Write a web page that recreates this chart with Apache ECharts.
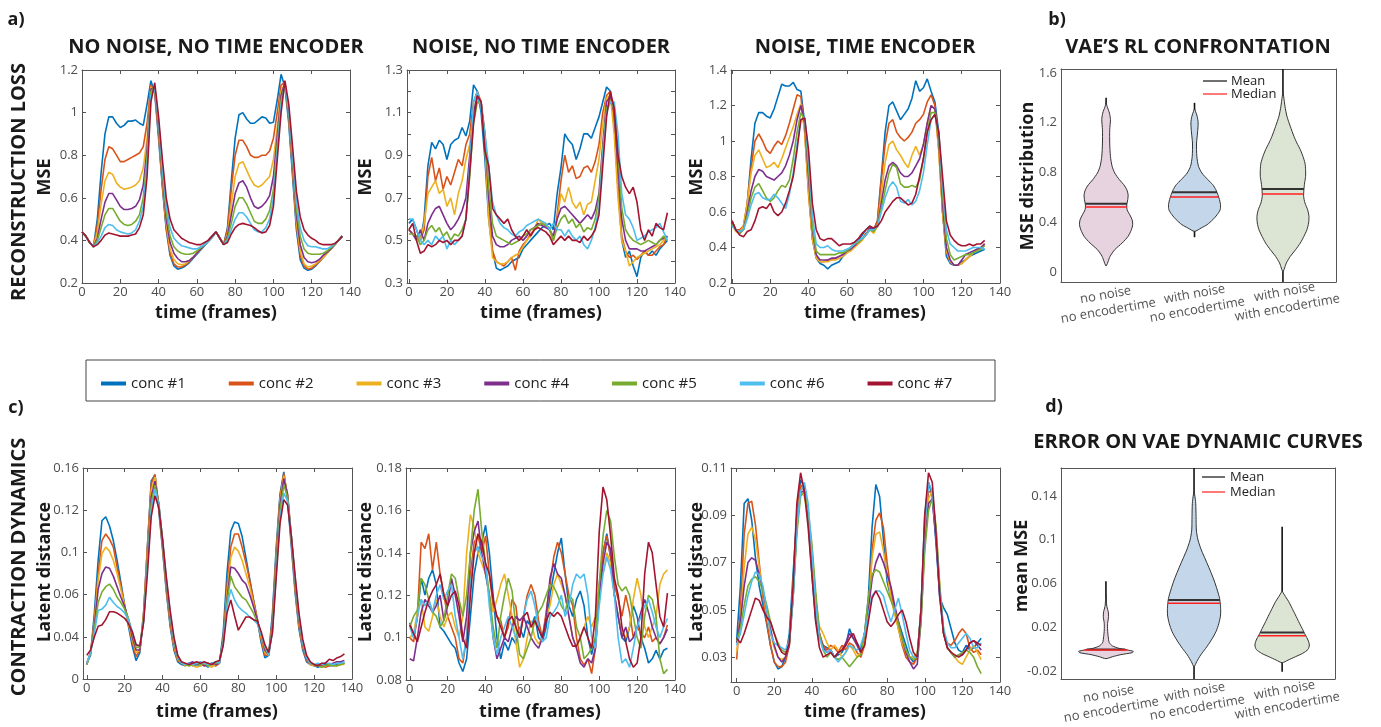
<!DOCTYPE html>
<html><head><meta charset="utf-8">
<script src="https://cdn.jsdelivr.net/npm/echarts@6/dist/echarts.min.js"></script>
<style>html,body{margin:0;padding:0;background:#fff}#c{width:1381px;height:727px}</style>
</head><body><div id="c"></div>
<script>
// ---------------- DATA ----------------
const SERIES_NAMES = ['conc #1','conc #2','conc #3','conc #4','conc #5','conc #6','conc #7'];
const COLORS = ['#0072BD','#D95319','#EDB120','#7E2F8E','#77AC30','#4DBEEE','#A2142F'];

const FRAMES_136 = [0,2,4,6,8,10,12,14,16,18,20,22,24,26,28,30,32,34,36,38,40,42,44,46,48,50,52,54,56,58,60,62,64,66,68,70,72,74,76,78,80,82,84,86,88,90,92,94,96,98,100,102,104,106,108,110,112,114,116,118,120,122,124,126,128,130,132,134,136];
const FRAMES_132 = [0,2,4,6,8,10,12,14,16,18,20,22,24,26,28,30,32,34,36,38,40,42,44,46,48,50,52,54,56,58,60,62,64,66,68,70,72,74,76,78,80,82,84,86,88,90,92,94,96,98,100,102,104,106,108,110,112,114,116,118,120,122,124,126,128,130,132];
const FRAMES_130 = [0,2,4,6,8,10,12,14,16,18,20,22,24,26,28,30,32,34,36,38,40,42,44,46,48,50,52,54,56,58,60,62,64,66,68,70,72,74,76,78,80,82,84,86,88,90,92,94,96,98,100,102,104,106,108,110,112,114,116,118,120,122,124,126,128,130];

// a) NO NOISE, NO TIME ENCODER  (MSE)
const A1_C1 = [0.44,0.42,0.39,0.37,0.50,0.72,0.90,0.98,0.98,0.95, 0.93,0.94,0.96,0.96,0.965,0.95,0.94,1.04,1.15,1.09, 0.88,0.65,0.45,0.33,0.28,0.265,0.27,0.28,0.295,0.315, 0.335,0.355,0.375,0.395,0.415,0.44,0.41,0.38,0.46,0.68, 0.88,0.99,1.0,0.97,0.95,0.95,0.965,0.98,0.975,0.95, 0.955,1.06,1.18,1.12,0.95,0.70,0.45,0.31,0.27,0.26, 0.265,0.28,0.30,0.32,0.34,0.36,0.38,0.40,0.42];
const A1_C2 = [0.44,0.42,0.39,0.37,0.47,0.64,0.78,0.84,0.83,0.80, 0.77,0.77,0.78,0.79,0.80,0.81,0.84,0.95,1.13,1.10, 0.90,0.66,0.46,0.34,0.29,0.275,0.275,0.285,0.30,0.32, 0.34,0.36,0.38,0.40,0.42,0.44,0.41,0.38,0.45,0.64, 0.80,0.87,0.87,0.84,0.80,0.79,0.79,0.80,0.80,0.82, 0.88,1.0,1.13,1.14,0.97,0.73,0.47,0.33,0.28,0.265, 0.27,0.285,0.30,0.32,0.34,0.36,0.38,0.40,0.42];
const A1_C3 = [0.44,0.42,0.39,0.37,0.44,0.57,0.68,0.72,0.71,0.67, 0.65,0.64,0.645,0.65,0.66,0.68,0.74,0.88,1.12,1.11, 0.92,0.68,0.48,0.36,0.31,0.29,0.285,0.29,0.305,0.32, 0.34,0.36,0.38,0.40,0.42,0.44,0.41,0.38,0.43,0.57, 0.70,0.76,0.77,0.73,0.69,0.66,0.65,0.66,0.68,0.70, 0.78,0.93,1.10,1.14,0.98,0.75,0.49,0.35,0.29,0.275, 0.28,0.29,0.305,0.32,0.34,0.36,0.38,0.40,0.42];
const A1_C4 = [0.44,0.42,0.39,0.37,0.41,0.50,0.58,0.62,0.62,0.59, 0.56,0.545,0.545,0.55,0.56,0.59,0.66,0.83,1.11,1.12, 0.93,0.70,0.50,0.39,0.34,0.315,0.30,0.30,0.305,0.32, 0.34,0.36,0.38,0.40,0.42,0.44,0.41,0.38,0.42,0.52, 0.62,0.67,0.68,0.65,0.60,0.56,0.55,0.56,0.58,0.61, 0.70,0.89,1.08,1.14,0.99,0.77,0.52,0.38,0.32,0.30, 0.295,0.30,0.31,0.33,0.345,0.36,0.38,0.40,0.42];
const A1_C5 = [0.44,0.42,0.39,0.37,0.40,0.46,0.52,0.55,0.55,0.52, 0.49,0.475,0.47,0.475,0.49,0.52,0.60,0.79,1.10,1.12, 0.95,0.72,0.53,0.42,0.37,0.35,0.34,0.335,0.335,0.34, 0.35,0.365,0.38,0.395,0.415,0.44,0.41,0.38,0.41,0.48, 0.56,0.60,0.60,0.57,0.53,0.49,0.48,0.48,0.50,0.54, 0.64,0.85,1.06,1.13,1.0,0.79,0.55,0.42,0.36,0.34, 0.335,0.335,0.335,0.34,0.35,0.365,0.38,0.40,0.42];
const A1_C6 = [0.44,0.42,0.39,0.37,0.39,0.42,0.46,0.475,0.47,0.45, 0.44,0.435,0.43,0.435,0.45,0.49,0.56,0.75,1.08,1.12, 0.96,0.74,0.56,0.46,0.41,0.39,0.375,0.37,0.365,0.36, 0.36,0.37,0.38,0.395,0.415,0.44,0.41,0.38,0.40,0.45, 0.50,0.53,0.53,0.51,0.48,0.45,0.44,0.44,0.46,0.50, 0.60,0.82,1.04,1.13,1.01,0.80,0.58,0.46,0.40,0.375, 0.37,0.37,0.365,0.36,0.36,0.37,0.385,0.40,0.42];
const A1_C7 = [0.44,0.42,0.39,0.37,0.38,0.40,0.425,0.435,0.43,0.425, 0.42,0.42,0.42,0.425,0.43,0.46,0.52,0.70,1.05,1.14, 0.98,0.78,0.60,0.50,0.45,0.43,0.41,0.40,0.39,0.385, 0.38,0.38,0.39,0.40,0.42,0.44,0.41,0.38,0.39,0.43, 0.46,0.475,0.48,0.475,0.47,0.46,0.445,0.435,0.44,0.47, 0.56,0.78,1.0,1.15,1.04,0.84,0.63,0.51,0.45,0.425, 0.41,0.40,0.385,0.38,0.38,0.38,0.385,0.40,0.42];

// NOISE, NO TIME ENCODER (MSE)
const A2_C1 = [0.58,0.60,0.55,0.50,0.60,0.85,0.96,0.93,0.97,0.95, 0.88,0.95,0.97,0.98,1.03,0.99,1.06,1.23,1.20,1.10, 0.88,0.60,0.45,0.37,0.36,0.37,0.38,0.40,0.41,0.42, 0.46,0.48,0.50,0.52,0.54,0.56,0.57,0.58,0.55,0.72, 0.84,1.00,0.97,0.95,0.88,0.93,1.00,1.00,0.98,1.03, 1.08,1.15,1.22,1.20,1.05,0.75,0.50,0.42,0.45,0.38, 0.33,0.42,0.45,0.43,0.45,0.43,0.46,0.48,0.50];
const A2_C2 = [0.55,0.53,0.52,0.50,0.55,0.80,0.89,0.78,0.84,0.74, 0.80,0.76,0.82,0.88,0.85,0.95,1.00,1.15,1.20,1.15, 0.95,0.65,0.45,0.40,0.39,0.38,0.40,0.42,0.36,0.45, 0.48,0.50,0.53,0.55,0.57,0.58,0.57,0.55,0.50,0.62, 0.78,0.90,0.82,0.85,0.79,0.80,0.84,0.85,0.82,0.87, 0.95,1.10,1.18,1.20,1.05,0.75,0.52,0.45,0.42,0.43, 0.41,0.43,0.45,0.43,0.43,0.45,0.47,0.48,0.52];
const A2_C3 = [0.55,0.53,0.52,0.50,0.58,0.72,0.75,0.78,0.72,0.74, 0.66,0.70,0.62,0.72,0.78,0.88,0.95,1.10,1.18,1.15, 0.95,0.60,0.42,0.40,0.39,0.39,0.40,0.42,0.43,0.44, 0.47,0.50,0.52,0.55,0.60,0.58,0.58,0.55,0.50,0.60, 0.72,0.68,0.75,0.68,0.65,0.68,0.62,0.67,0.68,0.78, 0.88,1.05,1.17,1.18,1.00,0.70,0.50,0.45,0.38,0.40, 0.42,0.43,0.44,0.45,0.46,0.47,0.48,0.50,0.52];
const A2_C4 = [0.55,0.53,0.50,0.55,0.50,0.58,0.62,0.65,0.66,0.62, 0.58,0.55,0.57,0.60,0.64,0.70,0.90,1.10,1.18,1.15, 1.00,0.70,0.52,0.48,0.47,0.47,0.48,0.50,0.51,0.52, 0.50,0.52,0.55,0.56,0.58,0.57,0.56,0.55,0.52,0.60, 0.65,0.66,0.64,0.62,0.60,0.58,0.60,0.62,0.60,0.64, 0.72,0.95,1.15,1.18,1.10,0.85,0.60,0.50,0.46,0.46, 0.46,0.45,0.45,0.46,0.47,0.48,0.50,0.51,0.52];
const A2_C5 = [0.53,0.53,0.52,0.48,0.50,0.55,0.57,0.54,0.56,0.52, 0.54,0.50,0.53,0.52,0.55,0.60,0.80,1.05,1.15,1.14, 1.00,0.75,0.58,0.52,0.51,0.50,0.49,0.48,0.49,0.50, 0.52,0.53,0.55,0.56,0.57,0.58,0.57,0.56,0.50,0.56, 0.60,0.62,0.58,0.60,0.56,0.58,0.54,0.56,0.55,0.60, 0.70,0.92,1.12,1.15,1.12,0.92,0.65,0.55,0.52,0.50, 0.49,0.48,0.49,0.50,0.49,0.48,0.50,0.52,0.50];
const A2_C6 = [0.60,0.60,0.55,0.50,0.48,0.50,0.48,0.52,0.50,0.52, 0.46,0.50,0.48,0.50,0.52,0.60,0.85,1.15,1.20,1.12, 1.00,0.85,0.68,0.62,0.58,0.56,0.55,0.53,0.52,0.54, 0.55,0.57,0.58,0.59,0.60,0.59,0.58,0.55,0.58,0.55, 0.55,0.52,0.55,0.52,0.50,0.52,0.48,0.46,0.50,0.56, 0.65,0.90,1.10,1.15,1.15,1.00,0.72,0.62,0.60,0.56, 0.50,0.51,0.52,0.54,0.55,0.56,0.58,0.54,0.50];
const A2_C7 = [0.55,0.58,0.50,0.44,0.45,0.48,0.47,0.48,0.50,0.49, 0.50,0.48,0.50,0.50,0.52,0.60,0.82,1.05,1.18,1.15, 0.92,0.85,0.65,0.62,0.60,0.58,0.60,0.55,0.52,0.50, 0.52,0.55,0.52,0.55,0.56,0.55,0.54,0.52,0.48,0.50, 0.52,0.50,0.52,0.50,0.50,0.49,0.52,0.50,0.52,0.55, 0.62,0.85,1.08,1.20,1.12,0.90,0.80,0.75,0.72,0.75, 0.68,0.55,0.50,0.55,0.52,0.58,0.56,0.55,0.63];

// NOISE, TIME ENCODER (MSE)
const A3_C1 = [0.55,0.50,0.49,0.50,0.65,0.90,1.10,1.16,1.16,1.14, 1.13,1.18,1.25,1.32,1.31,1.31,1.33,1.29,1.28,1.10, 0.75,0.45,0.34,0.31,0.30,0.28,0.30,0.31,0.32,0.35, 0.37,0.40,0.42,0.44,0.47,0.50,0.52,0.50,0.55,0.80, 1.05,1.20,1.22,1.17,1.12,1.15,1.18,1.24,1.34,1.28, 1.30,1.35,1.28,1.22,1.05,0.60,0.35,0.31,0.30,0.30, 0.32,0.33,0.35,0.36,0.37,0.38,0.39];
const A3_C2 = [0.55,0.50,0.50,0.52,0.65,0.85,1.00,1.04,1.00,0.95, 0.93,0.97,1.00,0.98,1.03,1.10,1.18,1.26,1.25,1.05, 0.70,0.45,0.35,0.32,0.32,0.33,0.33,0.34,0.35,0.36, 0.38,0.40,0.41,0.43,0.45,0.48,0.50,0.50,0.55,0.78, 0.98,1.10,1.12,1.05,1.02,1.00,1.02,1.05,1.10,1.12, 1.15,1.22,1.26,1.20,0.95,0.60,0.38,0.32,0.30,0.30, 0.31,0.33,0.35,0.37,0.39,0.40,0.42];
const A3_C3 = [0.53,0.49,0.48,0.52,0.65,0.82,0.92,0.95,0.90,0.85, 0.86,0.88,0.85,0.90,0.96,1.02,1.08,1.15,1.21,1.05, 0.72,0.45,0.34,0.32,0.32,0.32,0.33,0.33,0.34,0.35, 0.37,0.38,0.40,0.42,0.44,0.47,0.50,0.48,0.52,0.70, 0.88,0.98,1.00,0.95,0.92,0.88,0.85,0.92,0.97,0.92, 0.98,1.10,1.20,1.18,0.95,0.60,0.38,0.32,0.30,0.30, 0.31,0.33,0.35,0.37,0.39,0.40,0.41];
const A3_C4 = [0.53,0.50,0.48,0.50,0.60,0.72,0.80,0.84,0.83,0.80, 0.79,0.78,0.80,0.82,0.86,0.92,1.00,1.12,1.20,1.10, 0.80,0.50,0.36,0.33,0.33,0.33,0.34,0.34,0.35,0.36, 0.38,0.39,0.41,0.43,0.45,0.47,0.51,0.50,0.52,0.65, 0.78,0.86,0.88,0.86,0.82,0.80,0.80,0.82,0.86,0.90, 0.98,1.10,1.20,1.18,1.00,0.65,0.40,0.33,0.30,0.30, 0.33,0.36,0.37,0.38,0.39,0.40,0.42];
const A3_C5 = [0.53,0.50,0.48,0.50,0.58,0.68,0.74,0.76,0.72,0.68, 0.66,0.68,0.72,0.75,0.74,0.78,0.90,1.05,1.16,1.12, 0.85,0.52,0.38,0.36,0.36,0.36,0.36,0.36,0.37,0.37, 0.38,0.40,0.42,0.43,0.45,0.47,0.50,0.49,0.52,0.62, 0.72,0.82,0.87,0.85,0.76,0.74,0.74,0.75,0.74,0.78, 0.90,1.05,1.16,1.16,1.02,0.70,0.45,0.36,0.33,0.34, 0.35,0.36,0.36,0.37,0.38,0.39,0.41];
const A3_C6 = [0.52,0.50,0.49,0.50,0.56,0.64,0.70,0.71,0.68,0.67, 0.67,0.70,0.68,0.65,0.62,0.70,0.82,0.98,1.12,1.13, 0.90,0.58,0.42,0.40,0.40,0.41,0.39,0.38,0.38,0.38, 0.39,0.40,0.42,0.44,0.45,0.47,0.50,0.50,0.52,0.60, 0.68,0.74,0.77,0.74,0.66,0.65,0.67,0.64,0.66,0.72, 0.82,0.98,1.12,1.15,1.05,0.75,0.50,0.42,0.40,0.38, 0.38,0.38,0.39,0.40,0.40,0.40,0.39];
const A3_C7 = [0.55,0.50,0.47,0.46,0.49,0.50,0.55,0.62,0.63,0.62, 0.65,0.60,0.58,0.60,0.65,0.72,0.80,0.95,1.12,1.13, 0.95,0.65,0.50,0.45,0.44,0.45,0.45,0.43,0.41,0.42, 0.42,0.42,0.43,0.45,0.48,0.50,0.52,0.51,0.52,0.55, 0.60,0.63,0.66,0.68,0.68,0.66,0.64,0.65,0.70,0.80, 0.90,1.05,1.12,1.15,1.05,0.80,0.55,0.47,0.44,0.42, 0.41,0.41,0.42,0.41,0.42,0.42,0.44];

// c) CONTRACTION DYNAMICS (Latent distance)
const C1_C1 = [0.012,0.018,0.05,0.09,0.12,0.123,0.116,0.105,0.09,0.073, 0.056,0.04,0.025,0.014,0.02,0.05,0.1,0.15,0.155,0.128, 0.098,0.066,0.04,0.022,0.013,0.011,0.01,0.012,0.01,0.011, 0.01,0.011,0.009,0.012,0.01,0.012,0.035,0.08,0.112,0.119, 0.118,0.108,0.092,0.076,0.06,0.045,0.028,0.016,0.018,0.05, 0.1,0.14,0.157,0.135,0.1,0.065,0.038,0.022,0.013,0.011, 0.01,0.009,0.01,0.011,0.01,0.01,0.011,0.012,0.012];
const C1_C2 = [0.012,0.02,0.045,0.08,0.105,0.11,0.106,0.1,0.085,0.07, 0.055,0.042,0.028,0.017,0.022,0.05,0.1,0.148,0.155,0.13, 0.1,0.068,0.042,0.024,0.014,0.012,0.011,0.01,0.011,0.012, 0.011,0.01,0.012,0.011,0.01,0.012,0.03,0.07,0.1,0.11, 0.11,0.1,0.088,0.075,0.06,0.046,0.03,0.018,0.018,0.045, 0.095,0.138,0.156,0.138,0.104,0.068,0.04,0.024,0.014,0.011, 0.01,0.011,0.01,0.009,0.01,0.011,0.01,0.011,0.012];
const C1_C3 = [0.011,0.02,0.042,0.075,0.095,0.1,0.097,0.09,0.08,0.068, 0.055,0.042,0.03,0.02,0.022,0.048,0.095,0.143,0.153,0.132, 0.102,0.07,0.044,0.025,0.015,0.012,0.01,0.011,0.01,0.009, 0.01,0.011,0.01,0.009,0.011,0.012,0.028,0.065,0.092,0.1, 0.097,0.09,0.08,0.07,0.057,0.045,0.032,0.02,0.018,0.042, 0.092,0.135,0.154,0.14,0.106,0.07,0.042,0.025,0.015,0.011, 0.01,0.01,0.009,0.01,0.011,0.01,0.01,0.011,0.011];
const C1_C4 = [0.011,0.02,0.04,0.068,0.08,0.085,0.084,0.078,0.07,0.062, 0.055,0.045,0.032,0.022,0.022,0.045,0.09,0.138,0.15,0.133, 0.104,0.072,0.046,0.027,0.016,0.012,0.011,0.012,0.013,0.011, 0.012,0.01,0.011,0.012,0.011,0.012,0.028,0.06,0.085,0.084, 0.08,0.075,0.072,0.064,0.055,0.045,0.034,0.022,0.018,0.04, 0.088,0.132,0.152,0.14,0.108,0.072,0.044,0.026,0.015,0.012, 0.011,0.01,0.011,0.012,0.011,0.012,0.013,0.013,0.014];
const C1_C5 = [0.011,0.02,0.038,0.058,0.066,0.07,0.072,0.068,0.062,0.058, 0.053,0.046,0.035,0.024,0.024,0.045,0.088,0.133,0.147,0.133, 0.105,0.074,0.048,0.028,0.016,0.012,0.011,0.01,0.011,0.012, 0.011,0.012,0.01,0.011,0.012,0.013,0.028,0.058,0.078,0.07, 0.066,0.062,0.06,0.055,0.05,0.043,0.034,0.024,0.018,0.038, 0.085,0.128,0.147,0.138,0.108,0.074,0.046,0.027,0.016,0.012, 0.011,0.01,0.009,0.01,0.011,0.01,0.01,0.011,0.012];
const C1_C6 = [0.012,0.02,0.035,0.052,0.053,0.056,0.062,0.058,0.055,0.053, 0.05,0.045,0.036,0.026,0.025,0.044,0.085,0.128,0.144,0.132, 0.106,0.076,0.05,0.03,0.017,0.012,0.011,0.012,0.011,0.012, 0.013,0.012,0.011,0.012,0.013,0.012,0.027,0.055,0.068,0.06, 0.055,0.052,0.05,0.047,0.045,0.042,0.034,0.025,0.018,0.036, 0.08,0.122,0.141,0.135,0.108,0.076,0.048,0.028,0.016,0.012, 0.011,0.012,0.011,0.012,0.012,0.011,0.012,0.012,0.013];
const C1_C7 = [0.018,0.022,0.032,0.04,0.041,0.045,0.051,0.051,0.05,0.048, 0.046,0.042,0.036,0.026,0.025,0.043,0.08,0.123,0.139,0.13, 0.106,0.077,0.052,0.032,0.018,0.013,0.012,0.011,0.012,0.013, 0.012,0.013,0.012,0.011,0.013,0.014,0.025,0.05,0.06,0.048, 0.037,0.042,0.047,0.047,0.045,0.044,0.036,0.026,0.02,0.035, 0.077,0.118,0.136,0.132,0.108,0.078,0.05,0.03,0.018,0.013, 0.011,0.01,0.012,0.012,0.015,0.014,0.016,0.017,0.019];

const C2_C1 = [0.107,0.1,0.11,0.128,0.12,0.128,0.132,0.125,0.105,0.103, 0.1,0.097,0.095,0.088,0.084,0.09,0.11,0.13,0.14,0.145, 0.153,0.14,0.12,0.1,0.09,0.098,0.094,0.1,0.097,0.105, 0.1,0.108,0.105,0.11,0.1,0.098,0.105,0.12,0.13,0.14, 0.147,0.13,0.115,0.11,0.118,0.122,0.115,0.1,0.092,0.1, 0.125,0.14,0.149,0.138,0.12,0.11,0.1,0.098,0.105,0.115, 0.11,0.1,0.095,0.088,0.09,0.094,0.09,0.094,0.095];
const C2_C2 = [0.1,0.098,0.11,0.145,0.142,0.149,0.132,0.145,0.13,0.12, 0.11,0.105,0.1,0.09,0.088,0.1,0.13,0.145,0.148,0.14, 0.148,0.13,0.115,0.11,0.108,0.1,0.105,0.118,0.115,0.1, 0.11,0.12,0.125,0.12,0.108,0.1,0.112,0.125,0.138,0.145, 0.14,0.13,0.12,0.115,0.1,0.09,0.087,0.09,0.083,0.095, 0.12,0.14,0.148,0.138,0.125,0.118,0.11,0.12,0.112,0.1, 0.105,0.102,0.1,0.105,0.098,0.1,0.097,0.1,0.106];
const C2_C3 = [0.1,0.102,0.112,0.118,0.105,0.103,0.11,0.118,0.11,0.105, 0.11,0.112,0.105,0.1,0.11,0.14,0.158,0.152,0.14,0.135, 0.13,0.12,0.112,0.118,0.125,0.13,0.12,0.11,0.098,0.086, 0.09,0.1,0.108,0.1,0.097,0.1,0.11,0.115,0.125,0.13, 0.125,0.12,0.11,0.1,0.095,0.1,0.105,0.11,0.105,0.11, 0.125,0.13,0.14,0.135,0.12,0.11,0.102,0.1,0.105,0.118, 0.128,0.12,0.105,0.1,0.105,0.11,0.125,0.13,0.132];
const C2_C4 = [0.09,0.089,0.1,0.112,0.118,0.115,0.112,0.115,0.12,0.108, 0.115,0.128,0.12,0.11,0.098,0.11,0.14,0.15,0.155,0.14, 0.13,0.12,0.1,0.09,0.095,0.1,0.098,0.105,0.11,0.108, 0.11,0.105,0.1,0.097,0.095,0.1,0.11,0.128,0.135,0.13, 0.128,0.12,0.11,0.1,0.095,0.088,0.086,0.09,0.088,0.095, 0.12,0.135,0.145,0.142,0.12,0.11,0.1,0.105,0.098,0.1, 0.105,0.112,0.118,0.112,0.105,0.1,0.097,0.1,0.104];
const C2_C5 = [0.105,0.11,0.113,0.128,0.125,0.118,0.112,0.11,0.105,0.108, 0.12,0.13,0.128,0.118,0.11,0.12,0.14,0.16,0.17,0.15, 0.135,0.12,0.105,0.095,0.11,0.12,0.128,0.122,0.105,0.092, 0.09,0.095,0.1,0.108,0.112,0.115,0.12,0.125,0.124,0.12, 0.115,0.112,0.12,0.118,0.105,0.1,0.09,0.092,0.095,0.1, 0.125,0.148,0.16,0.155,0.138,0.125,0.122,0.124,0.12,0.11, 0.1,0.095,0.11,0.12,0.118,0.11,0.09,0.083,0.085];
const C2_C6 = [0.105,0.1,0.11,0.118,0.115,0.118,0.112,0.12,0.125,0.118, 0.122,0.125,0.11,0.1,0.09,0.1,0.125,0.14,0.143,0.138, 0.135,0.115,0.1,0.092,0.1,0.105,0.11,0.105,0.1,0.103, 0.11,0.118,0.122,0.115,0.105,0.098,0.1,0.11,0.112,0.115, 0.12,0.11,0.115,0.125,0.13,0.128,0.13,0.12,0.1,0.095, 0.115,0.13,0.138,0.132,0.12,0.1,0.088,0.09,0.086,0.095, 0.105,0.11,0.115,0.118,0.112,0.105,0.1,0.105,0.109];
const C2_C7 = [0.106,0.102,0.098,0.105,0.112,0.118,0.122,0.125,0.13,0.12, 0.115,0.12,0.122,0.115,0.1,0.095,0.12,0.14,0.149,0.145, 0.135,0.13,0.118,0.11,0.105,0.1,0.108,0.11,0.105,0.1, 0.11,0.112,0.105,0.108,0.104,0.1,0.108,0.112,0.11,0.112, 0.11,0.105,0.1,0.096,0.096,0.1,0.105,0.1,0.095,0.11, 0.15,0.171,0.165,0.148,0.128,0.12,0.105,0.098,0.09,0.086, 0.088,0.1,0.13,0.145,0.14,0.125,0.11,0.105,0.121];

const C3_C1 = [0.037,0.06,0.095,0.097,0.088,0.072,0.06,0.052,0.044,0.035, 0.028,0.025,0.026,0.03,0.04,0.065,0.09,0.105,0.102,0.088, 0.065,0.046,0.038,0.035,0.034,0.033,0.03,0.031,0.032,0.035, 0.042,0.038,0.036,0.033,0.04,0.055,0.085,0.103,0.098,0.08, 0.062,0.055,0.05,0.045,0.04,0.035,0.03,0.028,0.03,0.05, 0.09,0.104,0.098,0.078,0.055,0.051,0.048,0.042,0.036,0.033, 0.032,0.035,0.033,0.034,0.036,0.038];
const C3_C2 = [0.029,0.05,0.082,0.095,0.096,0.086,0.07,0.055,0.045,0.035, 0.028,0.026,0.026,0.028,0.035,0.06,0.09,0.103,0.1,0.09, 0.07,0.05,0.04,0.035,0.033,0.035,0.034,0.032,0.035,0.033, 0.036,0.035,0.032,0.03,0.035,0.05,0.075,0.088,0.091,0.085, 0.07,0.058,0.05,0.042,0.035,0.03,0.028,0.027,0.03,0.05, 0.085,0.1,0.1,0.082,0.058,0.04,0.036,0.035,0.037,0.04, 0.042,0.04,0.034,0.032,0.033,0.031];
const C3_C3 = [0.032,0.045,0.068,0.082,0.085,0.08,0.068,0.057,0.048,0.04, 0.034,0.03,0.029,0.03,0.036,0.06,0.088,0.1,0.098,0.09, 0.075,0.055,0.043,0.04,0.036,0.033,0.035,0.033,0.03,0.032, 0.035,0.033,0.03,0.032,0.035,0.05,0.072,0.082,0.083,0.075, 0.065,0.055,0.048,0.042,0.036,0.032,0.03,0.03,0.032,0.048, 0.08,0.097,0.1,0.085,0.06,0.04,0.034,0.032,0.03,0.028, 0.027,0.03,0.033,0.035,0.032,0.029];
const C3_C4 = [0.036,0.045,0.06,0.07,0.072,0.071,0.065,0.058,0.05,0.042, 0.035,0.03,0.028,0.03,0.035,0.055,0.085,0.1,0.1,0.09, 0.075,0.055,0.04,0.034,0.032,0.033,0.03,0.032,0.033,0.036, 0.04,0.038,0.035,0.032,0.04,0.05,0.063,0.07,0.074,0.07, 0.065,0.06,0.052,0.045,0.038,0.032,0.028,0.025,0.027,0.045, 0.078,0.095,0.097,0.08,0.055,0.04,0.034,0.032,0.03,0.031, 0.031,0.033,0.036,0.037,0.035,0.033];
const C3_C5 = [0.037,0.042,0.052,0.06,0.063,0.064,0.062,0.058,0.052,0.045, 0.04,0.036,0.033,0.032,0.036,0.055,0.082,0.098,0.1,0.092, 0.078,0.058,0.04,0.033,0.03,0.032,0.03,0.029,0.03,0.028, 0.026,0.028,0.03,0.031,0.04,0.055,0.065,0.067,0.066,0.062, 0.058,0.054,0.05,0.044,0.038,0.033,0.03,0.029,0.03,0.045, 0.075,0.092,0.097,0.085,0.06,0.042,0.034,0.032,0.03,0.031, 0.032,0.033,0.032,0.03,0.026,0.023];
const C3_C6 = [0.035,0.04,0.048,0.056,0.062,0.066,0.065,0.06,0.05,0.04, 0.036,0.035,0.034,0.033,0.037,0.055,0.085,0.1,0.104,0.095, 0.075,0.052,0.038,0.033,0.032,0.033,0.03,0.028,0.03,0.032, 0.035,0.034,0.033,0.035,0.04,0.048,0.056,0.058,0.058,0.056, 0.05,0.045,0.05,0.055,0.048,0.04,0.033,0.03,0.03,0.05, 0.085,0.104,0.1,0.082,0.058,0.042,0.036,0.034,0.034,0.036, 0.038,0.04,0.038,0.034,0.034,0.036];
const C3_C7 = [0.038,0.036,0.04,0.045,0.05,0.055,0.054,0.05,0.047,0.045, 0.04,0.035,0.032,0.031,0.036,0.06,0.095,0.108,0.1,0.085, 0.065,0.045,0.034,0.03,0.031,0.032,0.03,0.032,0.033,0.035, 0.038,0.04,0.036,0.032,0.035,0.045,0.055,0.058,0.055,0.05, 0.045,0.043,0.045,0.048,0.05,0.045,0.038,0.032,0.03,0.05, 0.09,0.108,0.104,0.082,0.056,0.04,0.034,0.032,0.031,0.03, 0.031,0.033,0.036,0.037,0.036,0.035];

// Tick values and labels
const X_TICKS = [0,20,40,60,80,100,120,140];
const X_LABELS = ['0','20','40','60','80','100','120','140'];
const A1_YTICKS = [0.2,0.4,0.6,0.8,1.0,1.2];
const A1_YLABELS = ['0.2','0.4','0.6','0.8','1','1.2'];
const A2_YTICKS = [0.3,0.4,0.5,0.6,0.7,0.8,0.9,1.0,1.1,1.2,1.3];
const A2_YLABELVALS = [0.3,0.5,0.7,0.9,1.1,1.3];
const A2_YLABELS = ['0.3','0.5','0.7','0.9','1.1','1.3'];
const A3_YTICKS = [0.2,0.4,0.6,0.8,1.0,1.2,1.4];
const A3_YLABELS = ['0.2','0.4','0.6','0.8','1','1.2','1.4'];
const C1_YTICKS = [0,0.032,0.064,0.096,0.128,0.16];
const C1_YLABELS = ['0','0.04','0.06','0.1','0.12','0.16'];
const C2_YTICKS = [0.08,0.1,0.12,0.14,0.16,0.18];
const C2_YLABELS = ['0.08','0.1','0.12','0.14','0.16','0.18'];
const C3_YTICKS = [0.03,0.05,0.07,0.09,0.11];
const C3_YLABELS = ['0.03','0.05','0.07','0.09','0.11'];
const B_YTICKS = [0,0.4,0.8,1.2,1.6];
const B_YLABELS = ['0','0.4','0.8','1.2','1.6'];
const D_YTICKS = [-0.02,0.02,0.06,0.1,0.14];
const D_YLABELS = ['-0.02','0.02','0.06','0.1','0.14'];

// Violin data (category positions 1,2,3)
const VIOLIN_POS = [1,2,3];
const VIOLIN_CATS = ['no noise\nno encodertime','with noise\nno encodertime','with noise\nwith encodertime'];
const VB1_Y = [0.051,0.126,0.18,0.233,0.287,0.34,0.381,0.421,0.461,0.501,0.541,0.582,0.622,0.662,0.702,0.742,0.796,0.85,0.93,1.037,1.144,1.225,1.278,1.332,1.359];
const VB1_W = [0,0.045,0.098,0.181,0.249,0.286,0.301,0.294,0.267,0.237,0.234,0.245,0.249,0.234,0.2,0.151,0.098,0.068,0.049,0.041,0.041,0.049,0.038,0.011,0];
const VB2_Y = [0.327,0.354,0.381,0.421,0.461,0.501,0.541,0.582,0.622,0.662,0.702,0.742,0.796,0.85,0.93,1.037,1.118,1.198,1.252,1.292,1.31];
const VB2_W = [0,0.075,0.143,0.207,0.256,0.29,0.294,0.282,0.264,0.241,0.207,0.151,0.083,0.045,0.026,0.023,0.034,0.041,0.03,0.011,0];
const VB3_Y = [0.005,0.072,0.126,0.18,0.233,0.287,0.34,0.394,0.448,0.501,0.555,0.608,0.662,0.716,0.769,0.823,0.876,0.93,0.984,1.037,1.091,1.171,1.252,1.332,1.412,1.453];
const VB3_W = [0,0.038,0.083,0.143,0.196,0.237,0.271,0.29,0.294,0.279,0.249,0.234,0.237,0.245,0.256,0.256,0.249,0.226,0.196,0.158,0.124,0.083,0.045,0.023,0.008,0];
const VB_WHISKERS = [[0.05,1.4],[0.28,1.36],[-0.08,1.632]];
const VB_MEANS = [0.549,0.641,0.667];
const VB_MEDIANS = [0.523,0.603,0.627];

const VD1_Y = [-0.0087,-0.0069,-0.005,-0.0032,-0.002,-0.0008,0.0007,0.0029,0.0059,0.0114,0.0175,0.0236,0.0297,0.0343,0.0388,0.0449,0.0495];
const VD1_W = [0,0.075,0.17,0.30,0.31,0.245,0.15,0.075,0.038,0.026,0.019,0.019,0.03,0.026,0.011,0.004,0];
const VD2_Y = [-0.016,-0.0115,-0.0054,0.0007,0.0083,0.016,0.0236,0.0312,0.0388,0.0464,0.054,0.0632,0.0723,0.0815,0.0906,0.0998,0.1089,0.1211,0.1333,0.1409,0.144];
const VD2_W = [0,0.03,0.075,0.132,0.196,0.249,0.282,0.301,0.301,0.29,0.264,0.226,0.181,0.132,0.083,0.045,0.026,0.023,0.019,0.008,0];
const VD3_Y = [-0.0124,-0.01,-0.0069,-0.0038,-0.0002,0.0038,0.0083,0.0129,0.019,0.0251,0.0312,0.0373,0.0434,0.048,0.0516,0.0531];
const VD3_W = [0,0.068,0.151,0.234,0.294,0.309,0.294,0.264,0.226,0.188,0.151,0.113,0.075,0.038,0.011,0];
const VD_WHISKERS = [[-0.009,0.062],[-0.0273,0.1656],[-0.0206,0.112]];
const VD_MEANS = [-0.0004,0.0449,0.0153];
const VD_MEDIANS = [-0.0008,0.0419,0.0123];
const VIOLIN_FILLS = ['#e6d3df','#c4d7ea','#dce5d4'];

// ---------------- BUILD ----------------
const FONT = '"Open Sans", "Noto Sans", sans-serif';
const AX = '#555';
const LBL = {fontFamily: FONT, fontSize: 13, color: '#4d4d4d'};

const grids = [
  {left:82, top:70, width:268, height:213},   // a1
  {left:407, top:70, width:268, height:213},  // a2
  {left:731, top:70, width:269, height:213},  // a3
  {left:1061, top:69, width:275, height:213}, // b
  {left:83, top:468, width:269, height:211},  // c1
  {left:406, top:468, width:269, height:212}, // c2
  {left:731, top:468, width:269, height:214}, // c3
  {left:1061, top:468, width:274, height:211} // d
];

function fmt(ticks, labels) {
  return function (v) {
    const i = ticks.findIndex(t => Math.abs(t - v) < 1e-7);
    return i < 0 ? '' : labels[i];
  };
}

const xAxes = [], yAxes = [];
function addAxes(gi, c) {
  const hasXT = c.xTicks.length > 0, hasYT = c.yTicks.length > 0;
  const line = {show:true, onZero:false, lineStyle:{color:AX, width:1}};
  xAxes.push({type:'value', gridIndex:gi, min:c.xMin, max:c.xMax, position:'bottom',
    axisLine: line,
    axisTick: hasXT ? {show:true, inside:true, length:4, customValues:c.xTicks, lineStyle:{color:AX}} : {show:false},
    axisLabel: hasXT ? Object.assign({show:true, customValues:c.xTicks, formatter:fmt(c.xTicks, c.xLabels), margin:3, showMinLabel:true, showMaxLabel:true}, LBL) : {show:false},
    splitLine:{show:false}});
  xAxes.push({type:'value', gridIndex:gi, min:c.xMin, max:c.xMax, position:'top',
    axisLine: line,
    axisTick: hasXT ? {show:true, inside:true, length:4, customValues:c.xTicks, lineStyle:{color:AX}} : {show:false},
    axisLabel:{show:false}, splitLine:{show:false}});
  yAxes.push({type:'value', gridIndex:gi, min:c.yMin, max:c.yMax, position:'left',
    axisLine: line,
    axisTick: (hasYT && c.ticksOn !== false) ? {show:true, inside:true, length:4, customValues:c.yTicks, lineStyle:{color:AX}} : {show:false},
    axisLabel: Object.assign({show:true, customValues:c.yLabelVals, formatter:fmt(c.yLabelVals, c.yLabels), margin:4, showMinLabel:true, showMaxLabel:true}, LBL),
    splitLine:{show:false}});
  yAxes.push({type:'value', gridIndex:gi, min:c.yMin, max:c.yMax, position:'right',
    axisLine: line,
    axisTick: (hasYT && c.ticksOn !== false) ? {show:true, inside:true, length:4, customValues:c.yTicks, lineStyle:{color:AX}} : {show:false},
    axisLabel:{show:false}, splitLine:{show:false}});
}

addAxes(0, {xMin:0, xMax:140, xTicks:X_TICKS, xLabels:X_LABELS, yMin:0.2, yMax:1.2, yTicks:A1_YTICKS, yLabelVals:A1_YTICKS, yLabels:A1_YLABELS});
addAxes(1, {xMin:-1, xMax:140, xTicks:X_TICKS, xLabels:X_LABELS, yMin:0.3, yMax:1.3, yTicks:A2_YTICKS, yLabelVals:A2_YLABELVALS, yLabels:A2_YLABELS});
addAxes(2, {xMin:-0.5, xMax:140, xTicks:X_TICKS, xLabels:X_LABELS, yMin:0.2, yMax:1.4, yTicks:A3_YTICKS, yLabelVals:A3_YTICKS, yLabels:A3_YLABELS});
addAxes(3, {xMin:0.49, xMax:3.6, xTicks:[], xLabels:[], yMin:-0.08, yMax:1.632, yTicks:B_YTICKS, yLabelVals:B_YTICKS, yLabels:B_YLABELS, ticksOn:false});
addAxes(4, {xMin:-2, xMax:140, xTicks:X_TICKS, xLabels:X_LABELS, yMin:0, yMax:0.16, yTicks:C1_YTICKS, yLabelVals:C1_YTICKS, yLabels:C1_YLABELS});
addAxes(5, {xMin:-2, xMax:140, xTicks:X_TICKS, xLabels:X_LABELS, yMin:0.08, yMax:0.18, yTicks:C2_YTICKS, yLabelVals:C2_YTICKS, yLabels:C2_YLABELS});
addAxes(6, {xMin:-3, xMax:140, xTicks:X_TICKS, xLabels:X_LABELS, yMin:0.0195, yMax:0.11, yTicks:C3_YTICKS, yLabelVals:C3_YTICKS, yLabels:C3_YLABELS});
addAxes(7, {xMin:0.49, xMax:3.6, xTicks:[], xLabels:[], yMin:-0.0273, yMax:0.1656, yTicks:D_YTICKS, yLabelVals:D_YTICKS, yLabels:D_YLABELS, ticksOn:false});

const series = [];
function addLinePanel(gi, frames, sets) {
  sets.forEach((vals, k) => {
    series.push({
      type:'line', name:SERIES_NAMES[k], xAxisIndex:2*gi, yAxisIndex:2*gi,
      data: frames.map((f, i) => [f, vals[i]]),
      showSymbol:false, symbol:'none', clip:true,
      lineStyle:{color:COLORS[k], width:1.6}, itemStyle:{color:COLORS[k]},
      emphasis:{disabled:true}, silent:true
    });
  });
}
addLinePanel(0, FRAMES_136, [A1_C1,A1_C2,A1_C3,A1_C4,A1_C5,A1_C6,A1_C7]);
addLinePanel(1, FRAMES_136, [A2_C1,A2_C2,A2_C3,A2_C4,A2_C5,A2_C6,A2_C7]);
addLinePanel(2, FRAMES_132, [A3_C1,A3_C2,A3_C3,A3_C4,A3_C5,A3_C6,A3_C7]);
addLinePanel(4, FRAMES_136, [C1_C1,C1_C2,C1_C3,C1_C4,C1_C5,C1_C6,C1_C7]);
addLinePanel(5, FRAMES_136, [C2_C1,C2_C2,C2_C3,C2_C4,C2_C5,C2_C6,C2_C7]);
addLinePanel(6, FRAMES_130, [C3_C1,C3_C2,C3_C3,C3_C4,C3_C5,C3_C6,C3_C7]);

function interp(ys, ws, v) {
  if (v <= ys[0]) return ws[0];
  for (let i = 1; i < ys.length; i++) {
    if (v <= ys[i]) { const t = (v - ys[i-1]) / (ys[i] - ys[i-1]); return ws[i-1] + t * (ws[i] - ws[i-1]); }
  }
  return ws[ws.length - 1];
}
function addViolinPanel(gi, profiles, whiskers, means, medians) {
  series.push({
    type:'custom', xAxisIndex:2*gi, yAxisIndex:2*gi, clip:true, silent:true,
    data: VIOLIN_POS.map((p, i) => [p, means[i]]),
    renderItem: function (params, api) {
      const i = params.dataIndex, c = VIOLIN_POS[i], P = profiles[i];
      const left = P.y.map((y, k) => api.coord([c - P.w[k], y]));
      const pts = left.slice();
      for (let k = P.y.length - 2; k >= 1; k--) pts.push(api.coord([c + P.w[k], P.y[k]]));
      const hline = (v, color, width) => {
        const w = interp(P.y, P.w, v);
        const a = api.coord([c - w, v]), b = api.coord([c + w, v]);
        return {type:'line', shape:{x1:a[0], y1:a[1], x2:b[0], y2:b[1]}, style:{stroke:color, lineWidth:width}};
      };
      const w0 = api.coord([c, whiskers[i][0]]), w1 = api.coord([c, whiskers[i][1]]);
      return {type:'group', children:[
        {type:'line', shape:{x1:w0[0], y1:w0[1], x2:w1[0], y2:w1[1]}, style:{stroke:'#111', lineWidth:1.6}},
        {type:'polygon', shape:{points:pts, smooth:0.25}, style:{fill:VIOLIN_FILLS[i], stroke:'#333', lineWidth:1}},
        hline(means[i], '#333', 2),
        hline(medians[i], '#ff1f1f', 1.5)
      ]};
    }
  });
}
addViolinPanel(3, [{y:VB1_Y,w:VB1_W},{y:VB2_Y,w:VB2_W},{y:VB3_Y,w:VB3_W}], VB_WHISKERS, VB_MEANS, VB_MEDIANS);
addViolinPanel(7, [{y:VD1_Y,w:VD1_W},{y:VD2_Y,w:VD2_W},{y:VD3_Y,w:VD3_W}], VD_WHISKERS, VD_MEANS, VD_MEDIANS);

// ---------------- TEXT ----------------
function txt(str, x, y, font, opts) {
  opts = opts || {};
  return {type:'text', x:x, y:y, rotation:opts.rot || 0, z:100, silent:true,
    style:{text:str, font:font, fill:opts.fill || '#1a1a1a', align:opts.align || 'center', verticalAlign:'middle',
      textAlign:opts.align || 'center', textVerticalAlign:'middle', lineHeight:opts.lh || undefined}};
}
const TITLE = 'bold 20px ' + FONT;
const LAB = 'bold 18px ' + FONT;
const ROT = Math.PI / 2;
const CAT_ROT = 10 * Math.PI / 180;
const catFont = '13px ' + FONT;
const g = [
  txt('a)', 16, 20, 'bold 18px ' + FONT),
  txt('b)', 1057, 20, 'bold 18px ' + FONT),
  txt('c)', 16, 408, 'bold 18px ' + FONT),
  txt('d)', 1054, 407, 'bold 18px ' + FONT),
  txt('NO NOISE, NO TIME ENCODER', 216, 47, TITLE),
  txt('NOISE, NO TIME ENCODER', 541, 47, TITLE),
  txt('NOISE, TIME ENCODER', 865, 47, TITLE),
  txt('VAE\u2019S RL CONFRONTATION', 1198, 47, TITLE),
  txt('ERROR ON VAE DYNAMIC CURVES', 1198, 442, TITLE),
  txt('RECONSTRUCTION LOSS', 19, 182, TITLE, {rot:ROT}),
  txt('CONTRACTION DYNAMICS', 19, 567, TITLE, {rot:ROT}),
  txt('MSE', 45, 177, LAB, {rot:ROT}),
  txt('MSE', 366, 177, LAB, {rot:ROT}),
  txt('MSE', 697, 177, LAB, {rot:ROT}),
  txt('MSE distribution', 1028, 176, LAB, {rot:ROT}),
  txt('Latent distance', 45, 572, LAB, {rot:ROT}),
  txt('Latent distance', 366, 572, LAB, {rot:ROT}),
  txt('Latent distance', 697, 572, LAB, {rot:ROT}),
  txt('mean MSE', 1022, 566, LAB, {rot:ROT}),
  txt('time (frames)', 216, 313, LAB),
  txt('time (frames)', 541, 313, LAB),
  txt('time (frames)', 865, 313, LAB),
  txt('time (frames)', 217, 712, LAB),
  txt('time (frames)', 540, 712, LAB),
  txt('time (frames)', 865, 712, LAB),
  // violin category labels
  txt(VIOLIN_CATS[0], 1107, 303, catFont, {rot:CAT_ROT, fill:'#555', lh:16}),
  txt(VIOLIN_CATS[1], 1196, 302, catFont, {rot:CAT_ROT, fill:'#555', lh:16}),
  txt(VIOLIN_CATS[2], 1286, 300, catFont, {rot:CAT_ROT, fill:'#555', lh:16}),
  txt(VIOLIN_CATS[0], 1110, 702, catFont, {rot:CAT_ROT, fill:'#555', lh:16}),
  txt(VIOLIN_CATS[1], 1196, 700, catFont, {rot:CAT_ROT, fill:'#555', lh:16}),
  txt(VIOLIN_CATS[2], 1286, 698, catFont, {rot:CAT_ROT, fill:'#555', lh:16}),
  // violin legends
  {type:'line', z:100, shape:{x1:1203, y1:81, x2:1227, y2:81}, style:{stroke:'#222', lineWidth:1.3}},
  {type:'line', z:100, shape:{x1:1203, y1:94, x2:1227, y2:94}, style:{stroke:'#ff3030', lineWidth:1.3}},
  txt('Mean', 1231, 81, '13px ' + FONT, {align:'left', fill:'#222'}),
  txt('Median', 1231, 94, '13px ' + FONT, {align:'left', fill:'#222'}),
  {type:'line', z:100, shape:{x1:1202, y1:477, x2:1225, y2:477}, style:{stroke:'#222', lineWidth:1.3}},
  {type:'line', z:100, shape:{x1:1202, y1:492, x2:1225, y2:492}, style:{stroke:'#ff3030', lineWidth:1.3}},
  txt('Mean', 1230, 477, '13px ' + FONT, {align:'left', fill:'#222'}),
  txt('Median', 1230, 492, '13px ' + FONT, {align:'left', fill:'#222'}),
  // legend box
  {type:'rect', z:1, shape:{x:86, y:360, width:909, height:41}, style:{fill:'rgba(0,0,0,0)', stroke:'#444', lineWidth:1}}
];

const option = {
  animation:false,
  backgroundColor:'#fff',
  grid: grids,
  xAxis: xAxes,
  yAxis: yAxes,
  legend: {
    data: SERIES_NAMES, left:96, top:371, orient:'horizontal', icon:'rect',
    itemWidth:25, itemHeight:4, itemGap:43, selectedMode:false,
    textStyle:{fontFamily:FONT, fontSize:15, color:'#222', width:60}
  },
  graphic: {elements: g},
  series: series
};
const chart = echarts.init(document.getElementById('c'), null, {renderer:'canvas'});
chart.setOption(option);
</script>
</body></html>
